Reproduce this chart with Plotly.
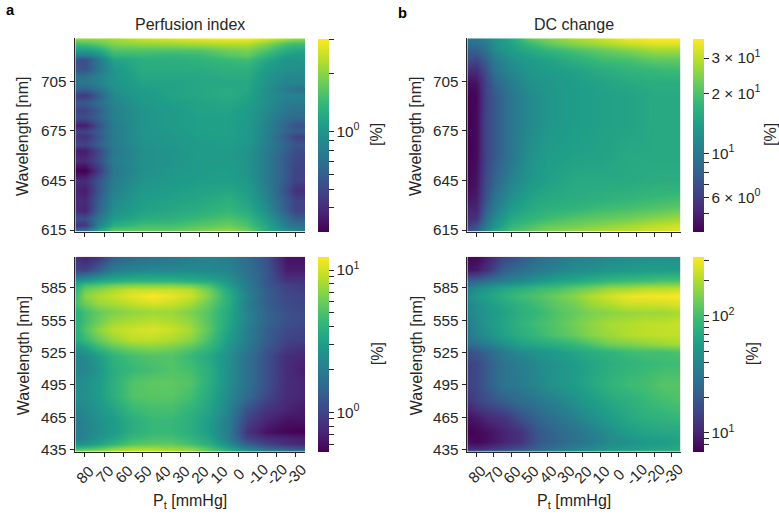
import numpy as np
import plotly.graph_objects as go

W, H = 779, 514

pt_ticks = [80, 70, 60, 50, 40, 30, 20, 10, 0, -10, -20, -30]
pt_labels = ["80", "70", "60", "50", "40", "30", "20", "10", "0", "-10", "-20", "-30"]
wl_ticks_top = [615, 645, 675, 705]
wl_ticks_bottom = [435, 465, 495, 525, 555, 585]

pi_top_pt = [85, 80, 73, 65, 50, 35, 20, 5, -5, -15, -25, -30, -35]
pi_top_wl = [731, 728, 724, 721, 718, 712, 708, 704, 700, 696.5, 692, 687.5, 683, 678.5, 675, 672, 667, 663,
             657, 651, 645, 639, 633, 627, 622, 618, 615]
pi_top = [
    [2.12, 2.12, 2.12, 2.2, 2.55, 2.67, 2.86, 3.0, 3.0, 2.67, 2.28, 2.12, 2.12],
    [1.5, 1.57, 1.72, 1.98, 2.12, 2.17, 2.28, 2.38, 2.38, 1.98, 1.57, 1.5, 1.5],
    [1.06, 1.06, 1.19, 1.57, 1.6, 1.57, 1.6, 1.8, 1.89, 1.57, 1.25, 1.19, 1.19],
    [.79, .79, .95, 1.37, 1.43, 1.37, 1.43, 1.65, 1.72, 1.37, 1.1, 1.06, 1.06],
    [.53, .53, .75, 1.14, 1.28, 1.28, 1.34, 1.43, 1.5, 1.19, .99, .99, 1.06],
    [.56, .54, .75, 1.0, 1.25, 1.25, 1.25, 1.3, 1.3, 1.06, .95, .95, .95],
    [.72, .72, .85, 1.0, 1.19, 1.19, 1.19, 1.25, 1.25, 1.0, .88, .88, .88],
    [.75, .75, .85, .99, 1.14, 1.14, 1.19, 1.19, 1.19, .99, .85, .85, .85],
    [.64, .6, .72, .95, 1.09, 1.14, 1.19, 1.25, 1.19, .95, .79, .72, .7],
    [.46, .44, .60, .90, 1.06, 1.14, 1.19, 1.25, 1.14, .95, .85, .85, .85],
    [.57, .57, .69, .86, 1.04, 1.09, 1.14, 1.19, 1.11, .95, .79, .79, .79],
    [.48, .48, .60, .83, .99, 1.06, 1.14, 1.14, 1.06, .90, .75, .72, .72],
    [.53, .53, .63, .83, .99, 1.06, 1.11, 1.11, 1.06, .88, .70, .67, .67],
    [.36, .36, .53, .79, .99, 1.06, 1.11, 1.11, 1.04, .85, .62, .55, .54],
    [.48, .48, .60, .79, .99, 1.04, 1.11, 1.11, 1.04, .85, .64, .60, .60],
    [.44, .42, .56, .79, .99, 1.02, 1.09, 1.11, 1.04, .83, .57, .48, .47],
    [.50, .48, .60, .79, .97, 1.02, 1.06, 1.09, 1.02, .83, .63, .56, .56],
    [.36, .36, .50, .75, .95, .99, 1.06, 1.06, .99, .79, .60, .52, .52],
    [.40, .40, .52, .79, .95, .99, 1.06, 1.06, .99, .79, .57, .50, .48],
    [.30, .30, .44, .75, .95, 1.02, 1.06, 1.09, .99, .79, .57, .48, .48],
    [.40, .40, .55, .79, .99, 1.04, 1.09, 1.11, 1.02, .79, .57, .48, .48],
    [.38, .36, .55, .83, 1.04, 1.09, 1.14, 1.19, 1.09, .83, .53, .42, .41],
    [.40, .40, .60, .89, 1.09, 1.14, 1.19, 1.31, 1.14, .87, .57, .48, .48],
    [.40, .38, .63, .95, 1.14, 1.19, 1.28, 1.4, 1.25, .95, .60, .48, .48],
    [.53, .53, .75, 1.06, 1.25, 1.31, 1.43, 1.57, 1.43, 1.06, .72, .60, .60],
    [.42, .44, .85, 1.28, 1.5, 1.5, 1.65, 1.8, 1.57, 1.19, .79, .72, .72],
    [.67, .72, 1.14, 1.69, 1.72, 1.72, 1.89, 2.12, 1.8, 1.25, .95, .85, .79],
]

dc_top_pt = [85, 80, 75, 70, 60, 50, 40, 25, 10, -5, -20, -35]
dc_top_wl = [731, 728, 724, 718, 712, 704, 696, 680, 660, 645, 635, 628, 622, 618, 615]
dc_top = [
    [9.8, 9.8, 11, 12.4, 15.5, 21.6, 24, 28, 31, 36, 37.5, 37.5],
    [9.4, 9.4, 10.2, 12.4, 14.6, 18, 21.6, 25, 28, 31, 34, 34],
    [7.9, 7.9, 9.2, 11.6, 13.8, 15.5, 17.3, 19.4, 21.6, 24, 27, 27],
    [7, 6.6, 7.9, 10.2, 12.4, 13.8, 14.6, 16.5, 18.6, 19.4, 21.6, 21.6],
    [5.4, 5.4, 7, 9.4, 11.6, 13, 13.8, 14.6, 16, 17.3, 18, 18.6],
    [4.3, 4.5, 6.3, 8.2, 10.4, 12.4, 13, 13.8, 14.6, 15.5, 16, 16],
    [4.04, 4.2, 6.3, 7.5, 9.8, 11.6, 13, 13.8, 14.3, 14.6, 15.5, 15.5],
    [4.04, 4.3, 6.3, 7.5, 9.8, 11.6, 13, 13.8, 14.3, 14.6, 15.5, 15.5],
    [4.04, 4.3, 6.3, 7.5, 9.8, 12.4, 13.8, 14.3, 14.6, 15.5, 15.5, 15.5],
    [4.2, 4.5, 6.6, 8.2, 11, 13, 14.3, 15.5, 15.5, 15.5, 16, 16],
    [4.5, 4.8, 7, 9.4, 12.4, 14.6, 15.5, 16, 16.6, 17.3, 18, 18.6],
    [5.05, 5.05, 7.9, 10.2, 13.8, 15.5, 16.6, 17.3, 18.6, 19.4, 20.5, 21.6],
    [5.4, 5.6, 8.8, 11.6, 15.5, 17.3, 18.6, 20.5, 21.6, 23, 25, 27],
    [5.9, 7, 9.8, 12.8, 17.3, 19.4, 21.6, 23, 25, 27, 30, 32],
    [7, 7.9, 11, 14.6, 19.4, 21.6, 24, 26, 28, 30, 32, 34],
]

bottom_pt = [85, 80, 73, 65, 55, 45, 35, 25, 15, 5, -5, -15, -25, -35]
pi_bottom_wl = [614, 602, 592, 588, 583, 578, 571, 563, 555, 546, 537, 529, 522, 509, 497, 485, 472, 462, 452, 446,
                440, 436, 434]
pi_bottom = [
    [.85, .7, .85, 1.36, 1.6, 1.75, 1.87, 2.0, 2.2, 2.0, 1.6, 1.17, .62, .62],
    [1.0, 1.0, 1.36, 2.0, 2.2, 2.3, 2.3, 2.4, 2.3, 2.2, 1.7, 1.26, .68, .68],
    [2.56, 3.0, 3.5, 3.8, 4.1, 4.1, 4.1, 3.8, 3.5, 2.75, 1.87, 1.26, .85, .85],
    [3.5, 4.8, 5.2, 6.1, 6.6, 6.6, 6.6, 6.1, 4.8, 3.0, 2.0, 1.26, 1.0, .9],
    [4.1, 6.1, 7.1, 8.3, 9.7, 9.7, 9.7, 9, 6.1, 3.5, 2.0, 1.36, 1.0, .95],
    [4.4, 7.1, 8.3, 9.4, 11, 12.4, 11.3, 9.7, 6.6, 3.8, 2.2, 1.36, 1.08, 1.0],
    [4.8, 6.1, 7.7, 8.3, 9.4, 10.5, 9.7, 8.3, 5.8, 3.8, 2.05, 1.36, 1.08, 1.0],
    [3.8, 4.8, 5.8, 6.6, 7.3, 7.7, 7.7, 6.6, 5.2, 3.5, 2.2, 1.47, 1.17, 1.08],
    [3.8, 4.8, 6.1, 7.7, 8.3, 9, 8.3, 7.3, 5.2, 3.5, 2.2, 1.47, 1.17, 1.08],
    [3.8, 5.2, 7.1, 9, 10, 10.5, 9.7, 8, 5.4, 3.25, 2.05, 1.36, 1.08, 1.0],
    [3.5, 4.4, 5.8, 7.4, 9, 9, 8.3, 7.1, 4.8, 3.0, 2.0, 1.36, 1.0, .95],
    [2.56, 3.0, 4.1, 5.2, 6.1, 6.6, 6.1, 5.2, 4.1, 2.75, 1.87, 1.26, .9, .8],
    [2.2, 2.4, 3.0, 4.1, 4.8, 5.2, 5.2, 4.4, 3.5, 2.56, 1.7, 1.17, .8, .73],
    [2.2, 2.3, 2.75, 3.8, 4.4, 4.8, 5.2, 4.8, 3.8, 2.56, 1.7, 1.17, .78, .68],
    [2.4, 2.56, 3.0, 3.9, 5.2, 5.6, 5.6, 5.2, 3.8, 2.56, 1.7, 1.17, .8, .73],
    [2.56, 2.56, 3.0, 3.9, 5.2, 5.4, 5.4, 4.8, 3.5, 2.4, 1.6, 1.08, .78, .73],
    [2.2, 2.4, 2.75, 3.3, 4.4, 4.8, 4.8, 4.1, 3.3, 2.2, 1.17, .85, .73, .65],
    [2.0, 2.2, 2.56, 3.0, 3.8, 4.4, 4.4, 3.8, 3.0, 2.0, 1.0, .73, .62, .62],
    [2.0, 2.2, 2.56, 3.0, 3.8, 4.4, 4.4, 3.8, 3.0, 2.0, .85, .62, .55, .53],
    [2.0, 2.2, 2.75, 3.3, 4.4, 4.8, 4.8, 4.2, 3.3, 2.0, 1.0, .78, .73, .68],
    [2.56, 2.75, 3.3, 4.1, 5.2, 5.6, 5.6, 4.8, 3.8, 2.4, 1.36, 1.0, .8, .73],
    [4.8, 5.2, 5.6, 7.1, 8.3, 8.3, 7.7, 7.1, 5.2, 3.5, 2.2, 1.6, 1.36, 1.26],
    [6.6, 7.1, 7.7, 9, 9.7, 9.7, 9, 7.7, 5.6, 4.1, 2.75, 2.2, 1.87, 1.87],
]

dc_bottom_wl = [614, 602, 592, 585, 578, 570, 562, 552, 542, 533, 526, 515, 495, 480, 465, 452, 442, 436, 434]
dc_bottom = [
    [7.4, 7.4, 10, 15, 20, 27, 32, 37, 39, 43, 45, 47, 47, 47],
    [8.3, 9, 12.2, 22, 27, 34, 39, 45, 47, 52, 54, 57, 57, 57],
    [22, 24, 29, 36, 43, 52, 63, 69, 78, 90, 95, 100, 108, 108],
    [34, 43, 52, 66, 75, 92, 100, 122, 140, 172, 180, 205, 205, 218],
    [43, 54, 64, 78, 97, 110, 133, 160, 205, 245, 290, 300, 310, 321],
    [39, 47, 57, 69, 83, 100, 122, 140, 180, 205, 240, 240, 245, 265],
    [39, 45, 52, 63, 78, 90, 110, 128, 148, 160, 172, 180, 180, 195],
    [34, 43, 54, 66, 83, 100, 115, 140, 165, 195, 205, 218, 225, 235],
    [32, 39, 47, 63, 75, 92, 110, 128, 160, 180, 205, 218, 225, 225],
    [27, 30, 37, 47, 63, 69, 78, 90, 110, 140, 148, 165, 180, 195],
    [18, 20, 25, 34, 43, 50, 57, 66, 75, 83, 95, 100, 100, 108],
    [15, 16, 22, 30, 36, 43, 50, 57, 66, 75, 83, 90, 95, 95],
    [15, 16, 22, 30, 34, 42, 50, 57, 69, 83, 95, 100, 115, 115],
    [12, 15, 18, 22, 27, 32, 39, 47, 57, 69, 78, 90, 100, 108],
    [8.3, 9, 11, 12.2, 18, 24, 30, 37, 47, 57, 69, 78, 83, 90],
    [6.9, 7.4, 8.3, 10, 12.2, 20, 25, 30, 36, 47, 57, 66, 69, 69],
    [8, 7.4, 8.3, 10, 12.2, 20, 24, 29, 34, 43, 47, 54, 57, 63],
    [11, 11, 12.2, 15, 18, 24, 30, 36, 43, 52, 57, 63, 66, 69],
    [22, 22, 24, 27, 30, 36, 43, 52, 57, 69, 75, 83, 83, 90],
]

# colour limits [%]
pi_top_lim = [0.301, 3.04]
dc_top_lim = [4.04, 37.5]
pi_bottom_lim = [0.53, 12.4]
dc_bottom_lim = [6.9, 321]

pi_top_cb = [0.4, 0.5, 0.6, 0.7, 0.8, 0.9, 1, 2, 3]
pi_top_cb_text = ["", "", "", "", "", "", "10<sup>0</sup>", "", ""]
dc_top_cb = [5, 6, 7, 8, 9, 10, 20, 30]
dc_top_cb_text = ["", "6 × 10<sup>0</sup>", "", "", "", "10<sup>1</sup>", "2 × 10<sup>1</sup>", "3 × 10<sup>1</sup>"]
pi_bottom_cb = [0.6, 0.7, 0.8, 0.9, 1, 2, 3, 4, 5, 6, 7, 8, 9, 10]
pi_bottom_cb_text = ["", "", "", "", "10<sup>0</sup>", "", "", "", "", "", "", "", "", "10<sup>1</sup>"]
dc_bottom_cb = [8, 9, 10, 20, 30, 40, 50, 60, 70, 80, 90, 100, 200, 300]
dc_bottom_cb_text = ["", "", "10<sup>1</sup>", "", "", "", "", "", "", "", "", "10<sup>2</sup>", "", ""]

FONT = "Liberation Sans"
INK = "#262626"
FS = 15.3
LS = 16

# pixel geometry of panels: left, right, top, bottom, colourbar left, [%] x
panels = [
    (75.3, 305.0, 38.3, 231.7, 318.3, 377, pi_top_pt, pi_top_wl, pi_top, pi_top_lim, pi_top_cb, pi_top_cb_text,
     [614, 731], wl_ticks_top),
    (467.3, 680.7, 38.3, 231.7, 692.7, 771, dc_top_pt, dc_top_wl, dc_top, dc_top_lim, dc_top_cb, dc_top_cb_text,
     [614, 731], wl_ticks_top),
    (75.3, 305.0, 256.7, 451.7, 318.3, 377, bottom_pt, pi_bottom_wl, pi_bottom, pi_bottom_lim, pi_bottom_cb,
     pi_bottom_cb_text, [433, 614], wl_ticks_bottom),
    (467.3, 680.7, 256.7, 451.7, 692.7, 752, bottom_pt, dc_bottom_wl, dc_bottom, dc_bottom_lim, dc_bottom_cb,
     dc_bottom_cb_text, [433, 614], wl_ticks_bottom),
]

fig = go.Figure()
layout = {}
annotations = []


def ann(text, x, y, size=LS, angle=0, bold=False, xref="paper"):
    annotations.append(dict(
        text=f"<b>{text}</b>" if bold else text, x=x if xref != "paper" else x / W, y=1 - y / H,
        xref=xref, yref="paper", showarrow=False, textangle=angle, xanchor="center", yanchor="middle",
        font=dict(family=FONT, size=size, color="#000000" if bold else INK),
    ))


for i, (l, r, t, b, cb, pct_x, pt, wl, vals, lim, cbv, cbt, yr, yt) in enumerate(panels):
    n = "" if i == 0 else str(i + 1)
    fig.add_trace(go.Heatmap(
        x=pt, y=wl, z=np.log10(np.array(vals)), zsmooth="best", colorscale="Viridis",
        zmin=np.log10(lim[0]), zmax=np.log10(lim[1]), xaxis="x" + n, yaxis="y" + n, hoverinfo="skip",
        colorbar=dict(
            x=cb / W, xanchor="left", xref="paper", y=1 - b / H, yanchor="bottom", yref="paper",
            lenmode="pixels", len=b - t, thicknessmode="pixels", thickness=11, outlinewidth=0,
            tickmode="array", tickvals=list(np.log10(cbv)), ticktext=cbt, ticks="outside", ticklen=5,
            tickwidth=1, tickcolor=INK, ypad=0, xpad=0,
            tickfont=dict(family=FONT, size=FS, color=INK),
        ),
    ))
    common = dict(showline=True, linecolor=INK, linewidth=1.2, ticks="outside", ticklen=4.5, tickcolor=INK,
                  tickwidth=1, showgrid=False, zeroline=False, tickfont=dict(family=FONT, size=FS, color=INK))
    layout["xaxis" + n] = dict(domain=[l / W, r / W], range=[85, -35], anchor="y" + n, tickmode="array",
                               tickvals=pt_ticks, showticklabels=False, **common)
    layout["yaxis" + n] = dict(domain=[1 - b / H, 1 - t / H], range=yr, anchor="x" + n, tickmode="array",
                               tickvals=yt, **common)
    # y title, "[%]" title
    ann("Wavelength [nm]", 23 if l < 300 else 416, (t + b) / 2 + 2, angle=-90)
    ann("[%]", pct_x, (t + b) / 2, angle=-90)
    if i >= 2:
        for tv, tl in zip(pt_ticks, pt_labels):
            ann(tl, tv, 474, size=FS, angle=-45, xref="x" + n)
        ann("P<sub>t</sub> [mmHg]", (l + r) / 2, 501)

ann("Perfusion index", 190, 24)
ann("DC change", 574, 24)
ann("a", 10, 10, bold=True, size=14.67)
ann("b", 402, 13, bold=True, size=14.67)

fig.update_layout(
    width=W, height=H, margin=dict(l=0, r=0, t=0, b=0, autoexpand=False), paper_bgcolor="white", plot_bgcolor="white",
    showlegend=False, annotations=annotations, **layout,
)
fig.write_html("out.html", post_script="document.body.style.margin='0';", config=dict(displayModeBar=False))
